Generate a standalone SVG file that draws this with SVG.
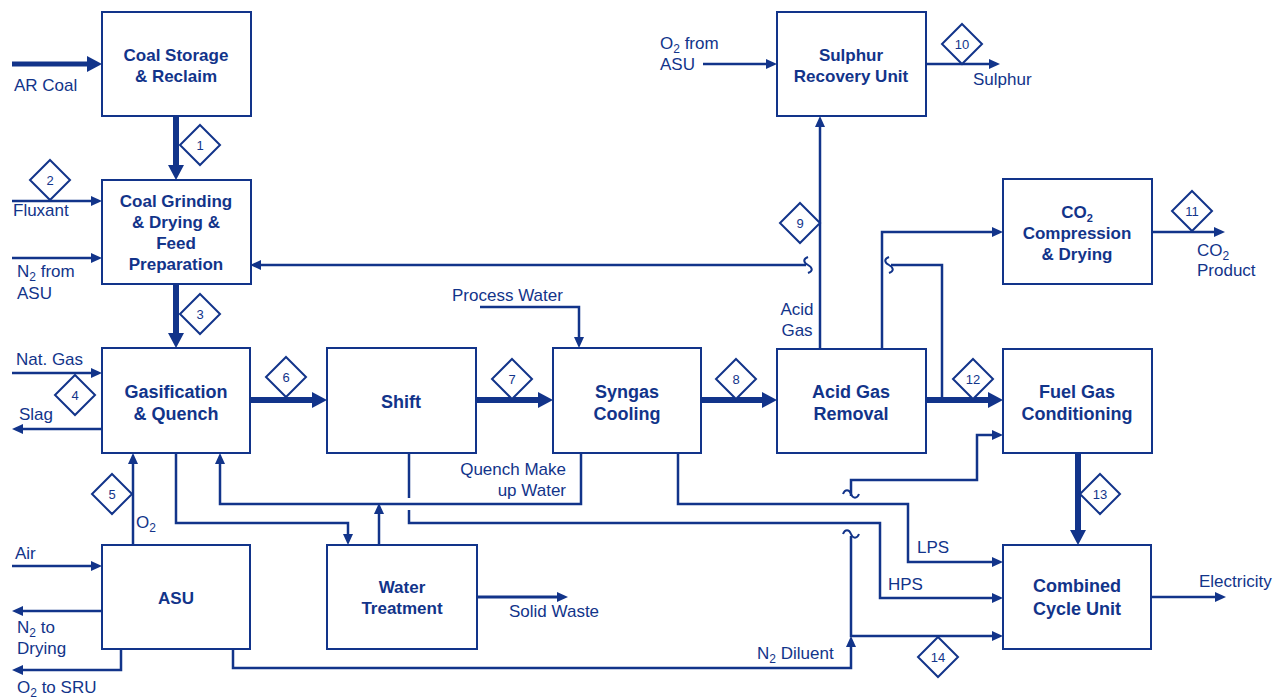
<svg xmlns="http://www.w3.org/2000/svg" width="1279" height="698" viewBox="0 0 1279 698">
<style>
.box{fill:#fff;stroke:#12348a;stroke-width:2}
.nt{font-family:"Liberation Sans",Arial,sans-serif;font-weight:bold;fill:#12348a;text-anchor:middle}
.n18{font-size:18px}
.n17{font-size:17px}
.lb{font-family:"Liberation Sans",Arial,sans-serif;font-size:17px;fill:#12348a}
.thin{fill:none;stroke:#12348a;stroke-width:2.5}
.thick{fill:none;stroke:#12348a;stroke-width:6}
.ta{marker-end:url(#aThin)}
.tk{marker-end:url(#aThick)}
.dm{fill:#fff;stroke:#12348a;stroke-width:2}
.dt{font-family:"Liberation Sans",Arial,sans-serif;font-size:13px;fill:#12348a;text-anchor:middle}
.wv{fill:none;stroke:#12348a;stroke-width:2}
</style>
<defs>
<marker id="aThin" markerUnits="userSpaceOnUse" markerWidth="11" markerHeight="10" refX="6" refY="5" orient="auto"><path d="M0,0 L11,5 L0,10 z" fill="#12348a"/></marker>
<marker id="aThick" markerUnits="userSpaceOnUse" markerWidth="15" markerHeight="16" refX="8" refY="8" orient="auto"><path d="M0,0 L15,8 L0,16 z" fill="#12348a"/></marker>
</defs>
<rect width="1279" height="698" fill="#fff"/>

<g id="connectors">
<path class="thick tk" d="M12,64 H95" style="stroke-width:5"/>
<path class="thin ta" d="M12,201 H97"/>
<path class="thin ta" d="M12,258 H97"/>
<path class="thin ta" d="M12,373 H97"/>
<path class="thin ta" d="M102,429 H17"/>
<path class="thin ta" d="M12,566 H97"/>
<path class="thin ta" d="M102,611 H17"/>
<path class="thin ta" d="M121,649 V670 H17"/>
<path class="thin ta" d="M133,545 V458"/>
<path class="thick tk" d="M176,116 V173"/>
<path class="thick tk" d="M176,284 V341"/>
<path class="thick tk" d="M250,400 H320"/>
<path class="thick tk" d="M476,400 H546"/>
<path class="thick tk" d="M701,400 H770"/>
<path class="thick tk" d="M926,400 H996"/>
<path class="thick tk" d="M1078,453 V538"/>
<path class="thin ta" d="M480,307 H579 V343"/>
<path class="thin ta" d="M581,453 V504 H220 V458"/>
<path class="thin ta" d="M678,453 V504 H908 V562 H998"/>
<path class="thin" d="M409,453 V498"/>
<path class="thin ta" d="M409,510 V523 H880 V598 H998"/>
<path class="thin ta" d="M176,453 V523 H348 V540"/>
<path class="thin ta" d="M379,545 V508"/>
<path class="thin ta" d="M477,597 H563" style="stroke-width:3"/>
<path class="thin ta" d="M233,649 V668 H851 V641"/>
<path class="thin ta" d="M851,536 V636 H998"/>
<path class="thin ta" d="M851,496 V480 H977 V435 H998"/>
<path class="thin ta" d="M1151,597 H1221"/>
<path class="thin ta" d="M820,349 V121"/>
<path class="thin ta" d="M882,349 V232 H998"/>
<path class="thin ta" d="M1152,232 H1220"/>
<path class="thin ta" d="M703,64 H772"/>
<path class="thin ta" d="M926,64 H995"/>
<path class="thin" d="M942,400 V265 H891"/>
<path class="thin ta" d="M806,265 H255"/>
<path class="wv" d="M808,257 c -5,2 -5,5 0,8 c 5,3 5,6 0,8"/>
<path class="wv" d="M889,257 c -5,2 -5,5 0,8 c 5,3 5,6 0,8"/>
<path class="wv" d="M843,494 c 2,-5 6,-5 8,0 c 2,5 6,5 8,0"/>
<path class="wv" d="M843,534 c 2,-5 6,-5 8,0 c 2,5 6,5 8,0"/>
</g>

<g id="labels">
<text class="lb" x="14" y="91">AR Coal</text>
<text class="lb" x="13" y="216">Fluxant</text>
<text class="lb" x="17" y="277">N<tspan font-size="12" dy="4">2</tspan><tspan dy="-4"> from</tspan></text>
<text class="lb" x="17" y="299">ASU</text>
<text class="lb" x="16" y="365">Nat. Gas</text>
<text class="lb" x="19" y="420">Slag</text>
<text class="lb" x="136" y="528">O<tspan font-size="12" dy="4">2</tspan></text>
<text class="lb" x="15" y="559">Air</text>
<text class="lb" x="17" y="633">N<tspan font-size="12" dy="4">2</tspan><tspan dy="-4"> to</tspan></text>
<text class="lb" x="17" y="654">Drying</text>
<text class="lb" x="17" y="693">O<tspan font-size="12" dy="4">2</tspan><tspan dy="-4"> to SRU</tspan></text>
<text class="lb" x="452" y="301">Process Water</text>
<text class="lb" x="566" y="475" text-anchor="end">Quench Make</text>
<text class="lb" x="566" y="496" text-anchor="end">up Water</text>
<text class="lb" x="797" y="315" text-anchor="middle">Acid</text>
<text class="lb" x="797" y="336" text-anchor="middle">Gas</text>
<text class="lb" x="660" y="49">O<tspan font-size="12" dy="4">2</tspan><tspan dy="-4"> from</tspan></text>
<text class="lb" x="660" y="70">ASU</text>
<text class="lb" x="973" y="85">Sulphur</text>
<text class="lb" x="1197" y="256">CO<tspan font-size="12" dy="4">2</tspan></text>
<text class="lb" x="1197" y="276">Product</text>
<text class="lb" x="917" y="553">LPS</text>
<text class="lb" x="888" y="590">HPS</text>
<text class="lb" x="1199" y="587">Electricity</text>
<text class="lb" x="757" y="659">N<tspan font-size="12" dy="4">2</tspan><tspan dy="-4"> Diluent</tspan></text>
<text class="lb" x="509" y="617">Solid Waste</text>
</g>

<g id="stream-numbers">
<g id="s1"><polygon class="dm" points="200,125 220,145 200,165 180,145"/><text class="dt" x="200" y="150">1</text></g>
<g id="s2"><polygon class="dm" points="50,160 70,180 50,200 30,180"/><text class="dt" x="50" y="185">2</text></g>
<g id="s3"><polygon class="dm" points="200,294 220,314 200,334 180,314"/><text class="dt" x="200" y="319">3</text></g>
<g id="s4"><polygon class="dm" points="75,375 95,395 75,415 55,395"/><text class="dt" x="75" y="400">4</text></g>
<g id="s5"><polygon class="dm" points="112,474 132,494 112,514 92,494"/><text class="dt" x="112" y="499">5</text></g>
<g id="s6"><polygon class="dm" points="286,357 306,377 286,397 266,377"/><text class="dt" x="286" y="382">6</text></g>
<g id="s7"><polygon class="dm" points="512,359 532,379 512,399 492,379"/><text class="dt" x="512" y="384">7</text></g>
<g id="s8"><polygon class="dm" points="736,359 756,379 736,399 716,379"/><text class="dt" x="736" y="384">8</text></g>
<g id="s9"><polygon class="dm" points="800,203 820,223 800,243 780,223"/><text class="dt" x="800" y="228">9</text></g>
<g id="s10"><polygon class="dm" points="962,24 982,44 962,64 942,44"/><text class="dt" x="962" y="49">10</text></g>
<g id="s11"><polygon class="dm" points="1192,191 1212,211 1192,231 1172,211"/><text class="dt" x="1192" y="216">11</text></g>
<g id="s12"><polygon class="dm" points="973,359 993,379 973,399 953,379"/><text class="dt" x="973" y="384">12</text></g>
<g id="s13"><polygon class="dm" points="1100,474 1120,494 1100,514 1080,494"/><text class="dt" x="1100" y="499">13</text></g>
<g id="s14"><polygon class="dm" points="938,637 958,657 938,677 918,657"/><text class="dt" x="938" y="662">14</text></g>
</g>

<g id="coal-storage"><rect class="box" x="102" y="12" width="149" height="104"/><text class="nt n17" x="176" y="61">Coal Storage</text><text class="nt n17" x="176" y="82">&amp; Reclaim</text></g>
<g id="coal-grinding"><rect class="box" x="102" y="180" width="149" height="104"/><text class="nt n17" x="176" y="207">Coal Grinding</text><text class="nt n17" x="176" y="228">&amp; Drying &amp;</text><text class="nt n17" x="176" y="249">Feed</text><text class="nt n17" x="176" y="270">Preparation</text></g>
<g id="gasification"><rect class="box" x="102" y="348" width="148" height="105"/><text class="nt n18" x="176" y="398">Gasification</text><text class="nt n18" x="176" y="420">&amp; Quench</text></g>
<g id="asu"><rect class="box" x="102" y="545" width="148" height="104"/><text class="nt n17" x="176" y="604">ASU</text></g>
<g id="shift"><rect class="box" x="327" y="348" width="149" height="105"/><text class="nt n18" x="401" y="408">Shift</text></g>
<g id="syngas-cooling"><rect class="box" x="553" y="348" width="148" height="105"/><text class="nt n18" x="627" y="398">Syngas</text><text class="nt n18" x="627" y="420">Cooling</text></g>
<g id="acid-gas-removal"><rect class="box" x="777" y="349" width="149" height="104"/><text class="nt n18" x="851" y="398">Acid Gas</text><text class="nt n18" x="851" y="420">Removal</text></g>
<g id="fuel-gas-conditioning"><rect class="box" x="1003" y="349" width="149" height="104"/><text class="nt n18" x="1077" y="398">Fuel Gas</text><text class="nt n18" x="1077" y="420">Conditioning</text></g>
<g id="co2-compression"><rect class="box" x="1003" y="179" width="149" height="105"/><text class="nt n17" x="1077" y="218">CO<tspan font-size="11" dy="4">2</tspan></text><text class="nt n17" x="1077" y="239">Compression</text><text class="nt n17" x="1077" y="260">&amp; Drying</text></g>
<g id="sulphur-recovery"><rect class="box" x="777" y="12" width="149" height="104"/><text class="nt n17" x="851" y="61">Sulphur</text><text class="nt n17" x="851" y="82">Recovery Unit</text></g>
<g id="water-treatment"><rect class="box" x="327" y="545" width="150" height="104"/><text class="nt n17" x="402" y="593">Water</text><text class="nt n17" x="402" y="614">Treatment</text></g>
<g id="combined-cycle"><rect class="box" x="1003" y="545" width="148" height="104"/><text class="nt n18" x="1077" y="592">Combined</text><text class="nt n18" x="1077" y="615">Cycle Unit</text></g>
</svg>
